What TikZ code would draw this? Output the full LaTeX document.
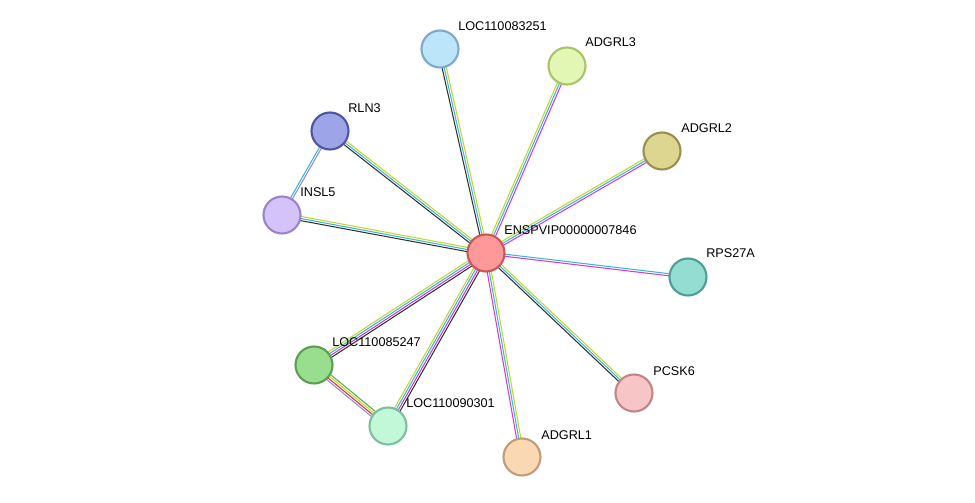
\documentclass[tikz,border=0pt]{standalone}
\usepackage{fontspec}
\setmainfont{Liberation Sans}
\usetikzlibrary{calc}
\pgfdeclarelayer{bg}
\pgfsetlayers{bg,main}

\definecolor{txt}{HTML}{C4D42A}
\definecolor{db}{HTML}{3AB8DA}
\definecolor{coex}{HTML}{333333}
\definecolor{expm}{HTML}{D23CD2}
\definecolor{cooc}{HTML}{8E8AE8}
\definecolor{fus}{HTML}{E03030}
\definecolor{nbh}{HTML}{4FB04F}

\definecolor{fenspv}{HTML}{FF9999}\definecolor{denspv}{HTML}{CC5555}
\definecolor{floc251}{HTML}{BDE5FA}\definecolor{dloc251}{HTML}{7FA8C9}
\definecolor{fadgrl3}{HTML}{E2F7B3}\definecolor{dadgrl3}{HTML}{A6C46A}
\definecolor{fadgrl2}{HTML}{DCD690}\definecolor{dadgrl2}{HTML}{999050}
\definecolor{frps27a}{HTML}{93DDD2}\definecolor{drps27a}{HTML}{4E9E96}
\definecolor{fpcsk6}{HTML}{F7C5C5}\definecolor{dpcsk6}{HTML}{C08585}
\definecolor{fadgrl1}{HTML}{FBD8B4}\definecolor{dadgrl1}{HTML}{C09C7A}
\definecolor{floc301}{HTML}{C2F7D7}\definecolor{dloc301}{HTML}{7BC09A}
\definecolor{floc247}{HTML}{99DD8F}\definecolor{dloc247}{HTML}{5A9E50}
\definecolor{finsl5}{HTML}{D4C3FA}\definecolor{dinsl5}{HTML}{9A84C8}
\definecolor{frln3}{HTML}{9DA4E8}\definecolor{drln3}{HTML}{4F55A0}

\tikzset{
  prot/.style={circle, draw=d#1, fill=f#1, line width=1.2pt, minimum size=0.74cm, inner sep=0pt},
  plabel/.style={font=\fontsize{7.2}{8}\selectfont, anchor=base west, inner sep=0pt}
}

% parallel evidence lines between two proteins
\newcommand\strlink[3]{%
  \foreach \c/\o in {#3}{%
    \draw[\c, line width=0.6pt] ($(#1.center)!\o pt!90:(#2.center)$) -- ($(#2.center)!\o pt!-90:(#1.center)$);
  }}

\begin{document}
\begin{tikzpicture}[x=0.02cm, y=-0.02cm]
    \useasboundingbox (0,0) rectangle (975,503);

    \node[prot=enspv] (enspv) at (486,253) {};
    \node[prot=loc251] (loc251) at (440,49) {};
    \node[prot=adgrl3] (adgrl3) at (567,66) {};
    \node[prot=adgrl2] (adgrl2) at (662,151) {};
    \node[prot=rps27a] (rps27a) at (688,277) {};
    \node[prot=pcsk6] (pcsk6) at (634,393) {};
    \node[prot=adgrl1] (adgrl1) at (522,457) {};
    \node[prot=loc301] (loc301) at (388,426) {};
    \node[prot=loc247] (loc247) at (314,365) {};
    \node[prot=insl5] (insl5) at (282,215) {};
    \node[prot=rln3] (rln3) at (330,131) {};

    \node[plabel] (tenspv) at (504,235) {ENSPVIP00000007846};
    \node[plabel] (tloc251) at (458,31) {LOC110083251};
    \node[plabel] (tadgrl3) at (585,47) {ADGRL3};
    \node[plabel] (tadgrl2) at (681,133) {ADGRL2};
    \node[plabel] (trps27a) at (706,258) {RPS27A};
    \node[plabel] (tpcsk6) at (653,376) {PCSK6};
    \node[plabel] (tadgrl1) at (541,440) {ADGRL1};
    \node[plabel] (tloc301) at (406,408) {LOC110090301};
    \node[plabel] (tloc247) at (332,347) {LOC110085247};
    \node[plabel] (tinsl5) at (300,197) {INSL5};
    \node[plabel] (trln3) at (348,113) {RLN3};

    \begin{pgfonlayer}{bg}
    \strlink{enspv}{loc251}{txt/-1.2, db/0, coex/1.2}
    \strlink{enspv}{adgrl3}{expm/-1.2, db/0, txt/1.2}
    \strlink{enspv}{adgrl2}{expm/-1.2, db/0, txt/1.2}
    \strlink{enspv}{rps27a}{expm/-0.6, db/0.6}
    \strlink{enspv}{pcsk6}{txt/1.2, db/0, coex/-1.2}
    \strlink{enspv}{adgrl1}{expm/-1.2, db/0, txt/1.2}
    \strlink{enspv}{loc301}{txt/-1.8, db/-0.6, expm/0.6, coex/1.8}
    \strlink{enspv}{loc247}{txt/-1.8, db/-0.6, expm/0.6, coex/1.8}
    \strlink{enspv}{insl5}{txt/-1.2, db/0, coex/1.2}
    \strlink{enspv}{rln3}{txt/-1.2, db/0, coex/1.2}
    \strlink{rln3}{insl5}{db/-0.6, cooc/0.6}
    \strlink{loc247}{loc301}{cooc/-1.8, fus/-0.6, txt/0.6, nbh/1.8}
    \end{pgfonlayer}
\end{tikzpicture}
\end{document}
